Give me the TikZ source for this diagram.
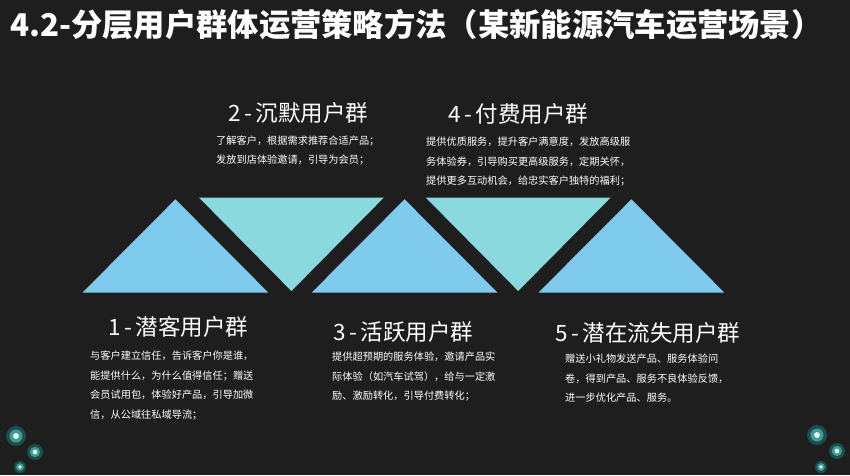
\documentclass[tikz,border=0pt]{standalone}
\usepackage{fontspec}
\setmainfont{Noto Sans CJK SC}
\usepackage{tikz}
\usetikzlibrary{positioning}
\definecolor{bgdark}{HTML}{1E1E1E}
\definecolor{triup}{HTML}{7ECBEE}
\definecolor{tridown}{HTML}{89D9DF}
\definecolor{glowout}{HTML}{1D4E4B}
\definecolor{glowmid}{HTML}{3A9C94}

\begin{document}
\begin{tikzpicture}[x=1pt,y=-1pt,
  heading/.style={text=white,font=\fontsize{22.5}{26}\selectfont,anchor=west,inner sep=0pt},
  desc/.style={text=white,font=\fontsize{10.2}{19.5}\selectfont,anchor=north west,align=left,inner sep=0pt}]
  \fill[bgdark] (0,0) rectangle (850,475);
  \useasboundingbox (0,0) rectangle (850,475);
  % title
  \node[text=white,font=\fontsize{31.3}{34}\selectfont\bfseries,anchor=west,inner sep=0pt] (title) at (10,25)
    {4.2-分层用户群体运营策略方法（某新能源汽车运营场景）};
  % triangles pointing up
  \foreach \ax in {175.4,404.6,631.4}
    \fill[triup] (\ax,199.3) -- (\ax+93,292.7) -- (\ax-93,292.7) -- cycle;
  % triangles pointing down
  \foreach \dx in {291.4,518.2}
    \fill[tridown] (\dx-92.5,197.5) -- (\dx+92.5,197.5) -- (\dx,291) -- cycle;
  % groups above
  \node[heading] (grp2) at (228,113) {2\,-\,沉默用户群};
  \node[desc] (txt2) at (216,135.5) {了解客户，根据需求推荐合适产品；\\发放到店体验邀请，引导为会员；};
  \node[heading] (grp4) at (448,114) {4\,-\,付费用户群};
  \node[desc] (txt4) at (426,137) {提供优质服务，提升客户满意度，发放高级服\\务体验券，引导购买更高级服务，定期关怀，\\提供更多互动机会，给忠实客户独特的福利；};
  % groups below
  \node[heading] (grp1) at (108,327) {1\,-\,潜客用户群};
  \node[desc] (txt1) at (90,351) {与客户建立信任，告诉客户你是谁，\\能提供什么，为什么值得信任；赠送\\会员试用包，体验好产品，引导加微\\信，从公域往私域导流；};
  \node[heading] (grp3) at (333,332) {3\,-\,活跃用户群};
  \node[desc] (txt3) at (332,352) {提供超预期的服务体验，邀请产品实\\际体验（如汽车试驾），给与一定激\\励、激励转化，引导付费转化；};
  \node[heading] (grp5) at (555,333) {5\,-\,潜在流失用户群};
  \node[desc] (txt5) at (565,354) {赠送小礼物发送产品、服务体验问\\卷，得到产品、服务不良体验反馈，\\进一步优化产品、服务。};
  % glowing dots
  \foreach \gx/\gy/\gr in {16/436/10,35/452/8,20/467/6,817/435/10,837/451/8,821/467/6} {
    \fill[glowout] (\gx,\gy) circle (\gr);
    \fill[glowmid] (\gx,\gy) circle (\gr*0.65);
    \fill[white!85!glowmid] (\gx,\gy) circle (\gr*0.3);
  }
\end{tikzpicture}
\end{document}
